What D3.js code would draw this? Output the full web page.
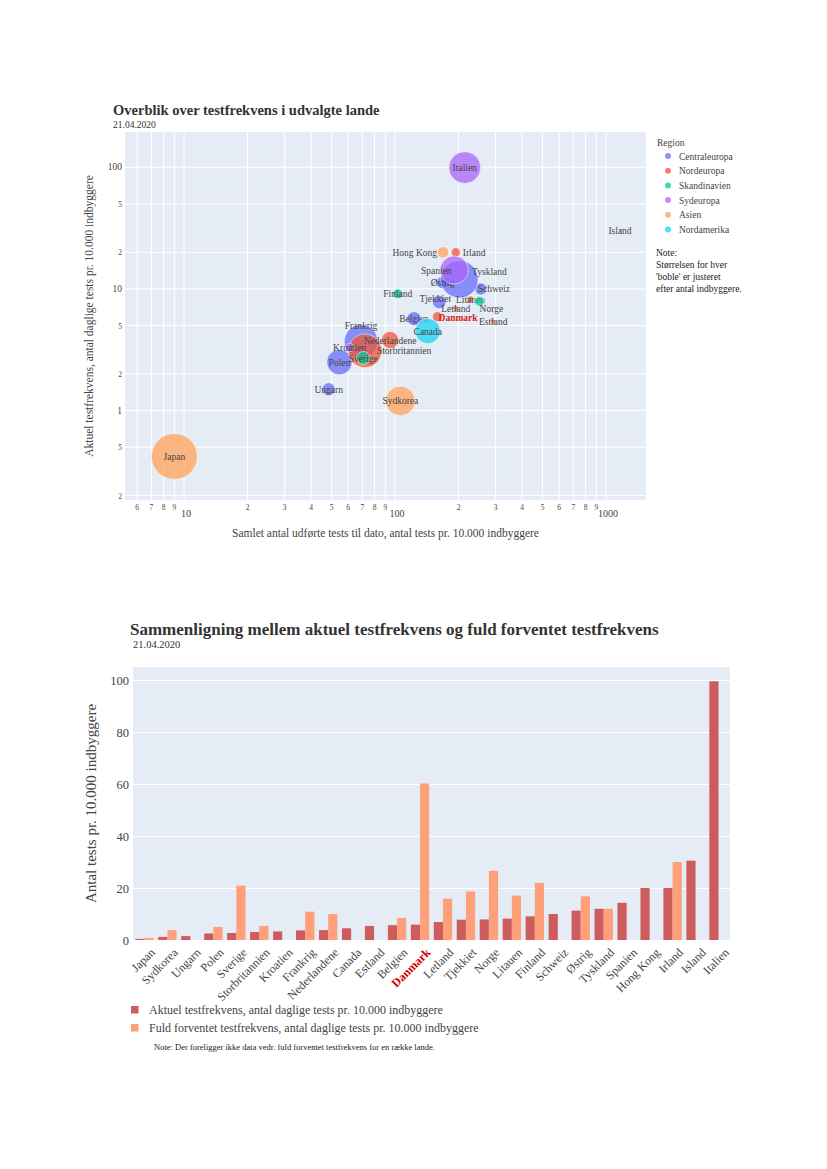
<!DOCTYPE html>
<html>
<head>
<meta charset="utf-8">
<script src="https://cdn.jsdelivr.net/npm/d3@7"></script>
<style>
  body { margin: 0; background: #fff; }
  svg text { font-family: "Liberation Serif", "DejaVu Serif", serif; }
</style>
</head>
<body>
<svg id="chart" width="827" height="1169"></svg>
<script>
// countries sorted by current daily tests (order of the bar chart)
const countries = ["Japan", "Sydkorea", "Ungarn", "Polen", "Sverige", "Storbritannien", "Kroatien",
  "Frankrig", "Nederlandene", "Canada", "Estland", "Belgien", "Danmark", "Letland", "Tjekkiet",
  "Norge", "Litauen", "Finland", "Schweiz", "Østrig", "Tyskland", "Spanien", "Hong Kong",
  "Irland", "Island", "Italien"];
const regionOf = ["Asien", "Asien", "Centraleuropa", "Centraleuropa", "Skandinavien", "Nordeuropa", "Sydeuropa",
  "Centraleuropa", "Nordeuropa", "Nordamerika", "Nordeuropa", "Centraleuropa", "Nordeuropa", "Nordeuropa", "Centraleuropa",
  "Skandinavien", "Nordeuropa", "Skandinavien", "Centraleuropa", "Centraleuropa", "Centraleuropa", "Sydeuropa", "Asien",
  "Nordeuropa", "Skandinavien", "Sydeuropa"];
// daily tests per 10.000 inhabitants
const dailyTests = [0.42, 1.2, 1.5, 2.5, 2.7, 3.1, 3.3, 3.7, 3.8, 4.5, 5.4, 5.7, 5.9, 6.9, 7.8,
  7.9, 8.2, 9.1, 10.0, 11.3, 12.0, 14.3, 20.0, 20.0, 30.5, 99.5];
// full expected daily tests per 10.000 inhabitants (null = no data)
const expectedTests = [0.8, 3.8, null, 5.0, 20.9, 5.4, null, 10.9, 10.0, null, null, 8.5, 60.2, 15.9, 18.7,
  26.6, 17.1, 22.0, null, 16.8, 12.0, null, null, 30.0, null, null];
// total tests to date per 10.000 inhabitants
const totalTests = [9.0, 106, 48.5, 54.5, 70.7, 72, 61, 69, 94.7, 143, 292, 123, 159, 194, 162,
  251, 228, 103, 255, 168, 202, 191, 169, 194, 1165, 214];
// population, millions
const population = [126, 51.7, 9.7, 38, 10.3, 66.8, 4.1, 67, 17.3, 37.6, 1.3, 11.5, 5.8, 1.9, 10.7,
  5.4, 2.8, 5.5, 8.6, 8.9, 83, 47, 7.5, 4.9, 0.36, 60];

const regions = ["Centraleuropa", "Nordeuropa", "Skandinavien", "Sydeuropa", "Asien", "Nordamerika"];
const regionColors = ["#636efa", "#EF553B", "#00cc96", "#ab63fa", "#FFA15A", "#19d3f3"];

const data = countries.map((c, i) => ({
  name: c, region: regionOf[i], daily: dailyTests[i], expected: expectedTests[i],
  total: totalTests[i], pop: population[i]
}));

const svg = d3.select("#chart");
const gridBg = "#E5ECF6";
const tickColor = "#444";

// ---------------- Bubble chart ----------------
const b = { left: 125, right: 646, top: 132, bottom: 500 };
const x = d3.scaleLog().domain([5.25, 1547]).range([b.left, b.right]);
const y = d3.scaleLog().domain([0.184, 195]).range([b.bottom, b.top]);
const r = d3.scaleSqrt().domain([0, 126]).range([0, 23]);
const color = d3.scaleOrdinal().domain(regions).range(regionColors);

svg.append("text").attr("x", 113).attr("y", 115)
  .attr("font-size", "14.5px").attr("font-weight", "700").attr("fill", "#333")
  .text("Overblik over testfrekvens i udvalgte lande");
svg.append("text").attr("x", 113).attr("y", 128)
  .attr("font-size", "9.5px").attr("fill", "#333").text("21.04.2020");

svg.append("rect").attr("x", b.left).attr("y", b.top)
  .attr("width", b.right - b.left).attr("height", b.bottom - b.top).attr("fill", gridBg);

const xTicks = [];
[1, 10, 100, 1000].forEach((dec) => {
  for (let m = 1; m <= 9; m++) {
    const v = m * dec;
    if (v >= x.domain()[0] && v <= x.domain()[1]) xTicks.push(v);
  }
});
const yTicks = y.ticks().filter((v) => {
  const m = v / Math.pow(10, Math.floor(Math.log10(v) + 1e-9));
  return v <= y.domain()[1] && [1, 2, 5].some((k) => Math.abs(m - k) < 1e-6);
});

const gb = svg.append("g");
gb.selectAll(".xg").data(xTicks).enter().append("line")
  .attr("x1", (d) => x(d)).attr("x2", (d) => x(d))
  .attr("y1", b.top).attr("y2", b.bottom)
  .attr("stroke", "#fff").attr("stroke-width", 1);
gb.selectAll(".yg").data(yTicks).enter().append("line")
  .attr("y1", (d) => y(d)).attr("y2", (d) => y(d))
  .attr("x1", b.left).attr("x2", b.right)
  .attr("stroke", "#fff").attr("stroke-width", 1);

const isDecade = (v) => Math.abs(Math.log10(v) - Math.round(Math.log10(v))) < 1e-9;
const firstDigit = (v) => String(Math.round(v / Math.pow(10, Math.floor(Math.log10(v) + 1e-9))));

gb.selectAll(".xl").data(xTicks).enter().append("text")
  .attr("x", (d) => x(d) + (isDecade(d) ? 2 : 0))
  .attr("y", (d) => (isDecade(d) ? 517 : 510))
  .attr("text-anchor", "middle")
  .attr("font-size", (d) => (isDecade(d) ? "10px" : "7.5px"))
  .attr("fill", tickColor)
  .text((d) => (isDecade(d) ? d : firstDigit(d)));

gb.selectAll(".yl").data(yTicks).enter().append("text")
  .attr("x", b.left - 3)
  .attr("y", (d) => y(d) + 3)
  .attr("text-anchor", "end")
  .attr("font-size", (d) => (isDecade(d) ? "9.5px" : "7.5px"))
  .attr("fill", tickColor)
  .text((d) => (isDecade(d) ? d : firstDigit(d)));

svg.append("text")
  .attr("transform", `translate(93, ${(b.top + b.bottom) / 2}) rotate(-90)`)
  .attr("text-anchor", "middle").attr("font-size", "11.5px").attr("fill", tickColor)
  .text("Aktuel testfrekvens, antal daglige tests pr. 10.000 indbyggere");
svg.append("text")
  .attr("x", (b.left + b.right) / 2).attr("y", 537)
  .attr("text-anchor", "middle").attr("font-size", "11.5px").attr("fill", tickColor)
  .text("Samlet antal udførte tests til dato, antal tests pr. 10.000 indbyggere");

// bubbles, one layer per region (legend order)
const labelNudge = {
  "Hong Kong": { anchor: "end", dx: -6, dy: 0 },
  "Irland": { anchor: "start", dx: 7, dy: 0 },
  "Danmark": { anchor: "start", dx: 1, dy: 1 },
  "Storbritannien": { anchor: "start", dx: 12, dy: 0 },
  "Schweiz": { anchor: "middle", dx: 13, dy: 0 },
  "Norge": { anchor: "middle", dx: 12, dy: 7 },
  "Spanien": { anchor: "middle", dx: -18, dy: 0 },
  "Tyskland": { anchor: "middle", dx: 30, dy: -8 },
  "Frankrig": { anchor: "middle", dx: 0, dy: -16 },
  "Tjekkiet": { anchor: "middle", dx: -4, dy: -4 }
};

regions.forEach((reg) => {
  const pts = data.filter((d) => d.region === reg);
  const layer = svg.append("g");
  layer.selectAll("circle").data(pts).enter().append("circle")
    .attr("cx", (d) => x(d.total)).attr("cy", (d) => y(d.daily))
    .attr("r", (d) => r(d.pop))
    .attr("fill", color(reg)).attr("fill-opacity", 0.75)
    .attr("stroke", "#fff").attr("stroke-width", 0.5);
  layer.selectAll("text").data(pts).enter().append("text")
    .attr("x", (d) => x(d.total) + (labelNudge[d.name] ? labelNudge[d.name].dx : 0))
    .attr("y", (d) => y(d.daily) + 3.5 + (labelNudge[d.name] ? labelNudge[d.name].dy : 0))
    .attr("text-anchor", (d) => (labelNudge[d.name] ? labelNudge[d.name].anchor : "middle"))
    .attr("font-size", "9.5px")
    .attr("font-weight", (d) => (d.name === "Danmark" ? "700" : "400"))
    .attr("fill", (d) => (d.name === "Danmark" ? "#d62020" : tickColor))
    .text((d) => d.name);
});

// legend
const lg = svg.append("g");
lg.append("text").attr("x", 657).attr("y", 146).attr("font-size", "9.5px").attr("fill", tickColor).text("Region");
regions.forEach((reg, i) => {
  const yy = 156 + i * 14.7;
  lg.append("circle").attr("cx", 668).attr("cy", yy).attr("r", 3)
    .attr("fill", color(reg)).attr("fill-opacity", 0.75);
  lg.append("text").attr("x", 679).attr("y", yy + 3.5)
    .attr("font-size", "9.5px").attr("fill", tickColor).text(reg);
});
["Note:", "Størrelsen for hver", "'boble' er justeret", "efter antal indbyggere."].forEach((t, i) => {
  lg.append("text").attr("x", 656).attr("y", 256 + i * 12)
    .attr("font-size", "9.5px").attr("fill", "#222").text(t);
});

// ---------------- Bar chart ----------------
const bb = { left: 133, right: 730, top: 667, bottom: 940 };
const xb = d3.scaleBand().domain(countries).range([bb.left, bb.right]).paddingInner(0.2).paddingOuter(0.1);
const xs = d3.scaleBand().domain(["daily", "expected"]).range([0, xb.bandwidth()]);
const yb = d3.scaleLinear().domain([0, 105]).range([bb.bottom, bb.top]);

svg.append("text").attr("x", 130).attr("y", 635)
  .attr("font-size", "17px").attr("font-weight", "700").attr("fill", "#333")
  .text("Sammenligning mellem aktuel testfrekvens og fuld forventet testfrekvens");
svg.append("text").attr("x", 133).attr("y", 648)
  .attr("font-size", "10.5px").attr("fill", "#333").text("21.04.2020");

svg.append("rect").attr("x", bb.left).attr("y", bb.top)
  .attr("width", bb.right - bb.left).attr("height", bb.bottom - bb.top).attr("fill", gridBg);

const yAxisB = svg.append("g").attr("transform", `translate(${bb.left},0)`)
  .call(d3.axisLeft(yb).tickValues([0, 20, 40, 60, 80, 100]).tickSize(-(bb.right - bb.left)).tickPadding(4));
yAxisB.select(".domain").remove();
yAxisB.selectAll(".tick line").attr("stroke", "#fff").attr("stroke-width", 1);
yAxisB.selectAll(".tick text").attr("fill", tickColor).attr("font-size", "12.5px")
  .attr("font-family", "Liberation Serif, serif");

svg.append("g").selectAll("rect").data(data).enter().append("rect")
  .attr("x", (d) => xb(d.name) + xs("daily"))
  .attr("y", (d) => yb(d.daily))
  .attr("width", xs.bandwidth())
  .attr("height", (d) => yb(0) - yb(d.daily))
  .attr("fill", "#CD5C5C");
svg.append("g").selectAll("rect").data(data.filter((d) => d.expected != null)).enter().append("rect")
  .attr("x", (d) => xb(d.name) + xs("expected"))
  .attr("y", (d) => yb(d.expected))
  .attr("width", xs.bandwidth())
  .attr("height", (d) => yb(0) - yb(d.expected))
  .attr("fill", "#FFA07A");

const xAxisB = svg.append("g").attr("transform", `translate(0,${bb.bottom})`)
  .call(d3.axisBottom(xb).tickSize(0).tickPadding(6));
xAxisB.select(".domain").remove();
xAxisB.selectAll(".tick text")
  .attr("font-family", "Liberation Serif, serif")
  .attr("font-size", "12px")
  .attr("fill", (d) => (d === "Danmark" ? "#cc0000" : tickColor))
  .attr("font-weight", (d) => (d === "Danmark" ? "700" : "400"))
  .attr("text-anchor", "end")
  .attr("dy", "0.35em")
  .attr("transform", "translate(4,6) rotate(-45)");

svg.append("text")
  .attr("transform", `translate(96, ${(bb.top + bb.bottom) / 2}) rotate(-90)`)
  .attr("text-anchor", "middle").attr("font-size", "15px").attr("fill", tickColor)
  .text("Antal tests pr. 10.000 indbyggere");

const legendItems = [
  { label: "Aktuel testfrekvens, antal daglige tests pr. 10.000 indbyggere", color: "#CD5C5C" },
  { label: "Fuld forventet testfrekvens, antal daglige tests pr. 10.000 indbyggere", color: "#FFA07A" }
];
legendItems.forEach((it, i) => {
  const yy = 1010 + i * 18;
  svg.append("rect").attr("x", 131).attr("y", yy - 4).attr("width", 7.5).attr("height", 7.5).attr("fill", it.color);
  svg.append("text").attr("x", 149).attr("y", yy + 4).attr("font-size", "12px").attr("fill", tickColor).text(it.label);
});
svg.append("text").attr("x", 154).attr("y", 1050).attr("font-size", "8.5px").attr("fill", "#222")
  .text("Note: Der foreligger ikke data vedr. fuld forventet testfrekvens for en række lande.");
</script>
</body>
</html>
